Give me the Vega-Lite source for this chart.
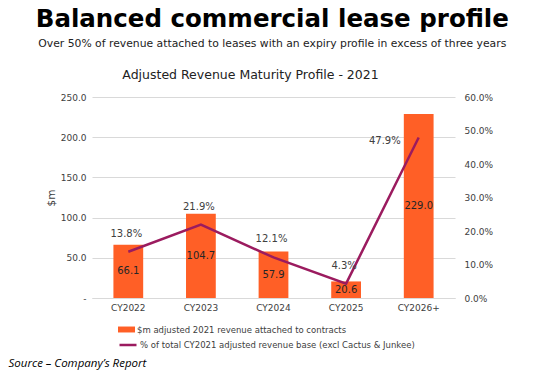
{
  "$schema": "https://vega.github.io/schema/vega-lite/v6.json",
  "padding": {"left": 8, "top": 7, "right": 10, "bottom": 4},
  "background": "white",
  "title": {
    "text": "Balanced commercial lease profile",
    "subtitle": "Over 50% of revenue attached to leases with an expiry profile in excess of three years",
    "font": "DejaVu Sans",
    "fontSize": 24.5,
    "fontWeight": "bold",
    "color": "#000000",
    "subtitleFont": "DejaVu Sans",
    "subtitleFontSize": 10.8,
    "subtitleColor": "#222222",
    "subtitlePadding": 5,
    "anchor": "middle",
    "dx": 22,
    "offset": 19
  },
  "vconcat": [
    {
      "width": 363,
      "height": 201,
      "title": {
        "text": "Adjusted  Revenue Maturity Profile - 2021",
        "font": "DejaVu Sans",
        "fontSize": 12.5,
        "fontWeight": "normal",
        "color": "#222222",
        "dx": -23,
        "offset": 12
      },
      "data": {
        "values": [
          {"year": "CY2022", "rev": 66.1, "pct": 0.138},
          {"year": "CY2023", "rev": 104.7, "pct": 0.219},
          {"year": "CY2024", "rev": 57.9, "pct": 0.121},
          {"year": "CY2025", "rev": 20.6, "pct": 0.043},
          {"year": "CY2026+", "rev": 229.0, "pct": 0.479}
        ]
      },
      "encoding": {
        "x": {
          "field": "year",
          "type": "nominal",
          "sort": null,
          "scale": {"paddingInner": 0.59, "paddingOuter": 0.295},
          "axis": {
            "labelAngle": 0,
            "labelFont": "DejaVu Sans",
            "labelFontSize": 9,
            "labelColor": "#404040",
            "labelPadding": 5,
            "ticks": false,
            "domainColor": "#d9d9d9",
            "title": "Source \u2013 Company\u2019s Report",
            "titleFont": "Open Sans",
            "titleFontStyle": "italic",
            "titleFontWeight": "normal",
            "titleFontSize": 11.5,
            "titleColor": "#000000",
            "titleX": -84,
            "titleY": 59,
            "titleAlign": "left",
            "titleAnchor": "start"
          }
        }
      },
      "layer": [
        {
          "layer": [
            {
              "mark": {"type": "bar", "color": "#FF5F26"},
              "encoding": {
                "y": {
                  "field": "rev",
                  "type": "quantitative",
                  "scale": {"domain": [0, 250]},
                  "axis": {
                    "values": [0, 50, 100, 150, 200, 250],
                    "labelExpr": "datum.value == 0 ? '-' : format(datum.value, '.1f')",
                    "labelFont": "DejaVu Sans",
                    "labelFontSize": 9,
                    "labelColor": "#404040",
                    "labelPadding": 6,
                    "labelOverlap": false,
                    "ticks": false,
                    "domain": false,
                    "grid": true,
                    "gridColor": "#d9d9d9",
                    "title": "$m",
                    "titleFont": "DejaVu Sans",
                    "titleFontSize": 10.5,
                    "titleFontWeight": "normal",
                    "titleColor": "#404040",
                    "titlePadding": 4
                  }
                },
                "color": {
                  "datum": "$m adjusted 2021 revenue attached to contracts",
                  "type": "nominal",
                  "scale": {"range": ["#FF5F26"]},
                  "legend": {
                    "title": null,
                    "orient": "none",
                    "legendX": 26,
                    "legendY": 224,
                    "symbolType": "M-1,-0.35H1V0.35H-1Z",
                    "symbolSize": 289,
                    "symbolStrokeWidth": 0,
                    "labelFont": "DejaVu Sans",
                    "labelFontSize": 8.5,
                    "labelColor": "#404040",
                    "labelOffset": 2,
                    "labelLimit": 500
                  }
                }
              }
            },
            {
              "transform": [{"calculate": "datum.rev / 2", "as": "mid"}],
              "mark": {"type": "text", "font": "DejaVu Sans", "fontSize": 10, "color": "#262626", "baseline": "middle"},
              "encoding": {
                "y": {"field": "mid", "type": "quantitative", "scale": {"domain": [0, 250]},
                  "axis": {
                    "values": [0, 50, 100, 150, 200, 250],
                    "labelExpr": "datum.value == 0 ? '-' : format(datum.value, '.1f')",
                    "labelFont": "DejaVu Sans",
                    "labelFontSize": 9,
                    "labelColor": "#404040",
                    "labelPadding": 6,
                    "labelOverlap": false,
                    "ticks": false,
                    "domain": false,
                    "grid": true,
                    "gridColor": "#d9d9d9",
                    "title": "$m",
                    "titleFont": "DejaVu Sans",
                    "titleFontSize": 10.5,
                    "titleFontWeight": "normal",
                    "titleColor": "#404040",
                    "titlePadding": 4
                  }},
                "text": {"field": "rev", "type": "quantitative", "format": ".1f"}
              }
            }
          ]
        },
        {
          "encoding": {
            "y": {
              "field": "pct",
              "type": "quantitative",
              "scale": {"domain": [0, 0.6]},
              "axis": {
                "orient": "right",
                "values": [0, 0.1, 0.2, 0.3, 0.4, 0.5, 0.6],
                "format": ".1%",
                "labelFont": "DejaVu Sans",
                "labelFontSize": 9,
                "labelColor": "#404040",
                "labelPadding": 9,
                "labelOverlap": false,
                "ticks": false,
                "domain": false,
                "grid": false,
                "title": null
              }
            }
          },
          "layer": [
            {
              "mark": {"type": "line", "color": "#9B1B5F", "strokeWidth": 2.5},
              "encoding": {
                "stroke": {
                  "datum": "% of total CY2021 adjusted revenue base (excl Cactus & Junkee)",
                  "type": "nominal",
                  "scale": {"range": ["#9B1B5F"]},
                  "legend": {
                    "title": null,
                    "orient": "none",
                    "legendX": 26,
                    "legendY": 238,
                    "symbolType": "stroke",
                    "symbolSize": 289,
                    "symbolStrokeWidth": 2.5,
                    "labelFont": "DejaVu Sans",
                    "labelFontSize": 8.5,
                    "labelColor": "#404040",
                    "labelOffset": 2,
                    "labelLimit": 500
                  }
                }
              }
            },
            {
              "transform": [{"filter": "datum.year != 'CY2026+'"}],
              "mark": {"type": "text", "font": "DejaVu Sans", "fontSize": 10, "color": "#404040", "dy": -18, "dx": -2},
              "encoding": {
                "text": {"field": "pct", "type": "quantitative", "format": ".1%"}
              }
            },
            {
              "transform": [{"filter": "datum.year == 'CY2026+'"}],
              "mark": {"type": "text", "font": "DejaVu Sans", "fontSize": 10, "color": "#404040", "align": "right", "dx": -18, "dy": 3},
              "encoding": {
                "text": {"field": "pct", "type": "quantitative", "format": ".1%"}
              }
            }
          ]
        }
      ],
      "resolve": {"scale": {"y": "independent"}}
    }
  ],
  "resolve": {"legend": {"color": "independent", "stroke": "independent"}},
  "config": {"view": {"stroke": null}}
}
